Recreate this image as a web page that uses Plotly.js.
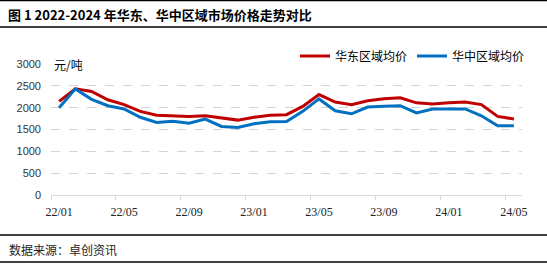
<!DOCTYPE html>
<html>
<head>
<meta charset="utf-8">
<script src="https://cdn.plot.ly/plotly-3.0.1.min.js"></script>
<style>
html,body{margin:0;padding:0;background:#fff;}
#chart{width:547px;height:265px;}
</style>
</head>
<body>
<div id="chart"></div>
<script>
// ---- data ----
const months = ["22/01","22/02","22/03","22/04","22/05","22/06","22/07","22/08","22/09","22/10","22/11","22/12",
                "23/01","23/02","23/03","23/04","23/05","23/06","23/07","23/08","23/09","23/10","23/11","23/12",
                "24/01","24/02","24/03","24/04","24/05"];
const eastPrice = [2145,2430,2370,2180,2070,1915,1825,1815,1800,1815,1760,1715,
                   1780,1825,1840,2030,2300,2130,2070,2160,2205,2225,2110,2085,
                   2110,2130,2070,1800,1740];
const centralPrice = [2000,2430,2190,2045,1970,1780,1660,1690,1645,1740,1570,1545,
                      1630,1675,1685,1915,2200,1930,1860,2015,2030,2045,1880,1970,
                      1970,1970,1815,1585,1585];
const tickLabels = ["22/01","22/05","22/09","23/01","23/05","23/09","24/01","24/05"];
const seriesNames = ["华东区域均价","华中区域均价"];
const titleText = "图 1 2022-2024 年华东、华中区域市场价格走势对比";
const unitText = "元/吨";
const sourceText = "数据来源：卓创资讯";

// ---- layout geometry ----
const W = 547, H = 265;
const M = {l: 51, r: 25, t: 64, b: 70};
const PW = W - M.l - M.r, PH = H - M.t - M.b;
const px = x => (x - M.l) / PW;          // pixel -> paper x
const py = y => (H - M.b - y) / PH;      // pixel -> paper y

const idx = months.map((m, i) => i);
const tickIdx = tickLabels.map(t => months.indexOf(t));

const cjk = '"Noto Sans CJK SC", "Noto Sans", sans-serif';

const traces = [
  {x: idx, y: eastPrice, name: seriesNames[0], type: 'scatter', mode: 'lines',
   line: {color: '#C00000', width: 3}},
  {x: idx, y: centralPrice, name: seriesNames[1], type: 'scatter', mode: 'lines',
   line: {color: '#0070C0', width: 3}}
];

const hline = (y) => ({type: 'line', xref: 'paper', yref: 'paper',
  x0: px(0), x1: px(W), y0: py(y), y1: py(y), line: {color: '#000', width: 1.3}});

const layout = {
  width: W, height: H,
  margin: M,
  paper_bgcolor: '#fff', plot_bgcolor: '#fff',
  showlegend: true,
  title: {text: '<b>' + titleText + '</b>', xref: 'container', yref: 'container',
          x: 8 / W, xanchor: 'left', y: 1 - 15 / H, yanchor: 'middle',
          font: {family: cjk, size: 13, color: '#000'}},
  legend: {orientation: 'h', x: px(295), xanchor: 'left', y: py(56), yanchor: 'middle',
           font: {family: cjk, size: 12, color: '#000'}, itemwidth: 30,
           bgcolor: 'rgba(0,0,0,0)', tracegroupgap: 0},
  xaxis: {range: [-0.5, months.length - 0.5], tickmode: 'array', tickvals: tickIdx, ticktext: tickLabels,
          ticks: '', showgrid: false, zeroline: false, showline: true, linecolor: '#d9d9d9', linewidth: 1,
          ticklabelstandoff: 6,
          tickfont: {family: '"Liberation Serif", serif', size: 12, color: '#222'},
          minor: {tick0: -0.5, dtick: 4, ticks: 'outside', ticklen: 4, tickcolor: '#d9d9d9', showgrid: false},
          fixedrange: true},
  yaxis: {range: [0, 3000], dtick: 500, tick0: 0, showgrid: true, gridcolor: '#d4d4d4', griddash: 'dash',
          gridwidth: 1, zeroline: false, showline: false, ticks: '', ticklabelstandoff: 9,
          tickfont: {family: '"Liberation Sans", Arial, sans-serif', size: 11, color: '#333'},
          fixedrange: true},
  shapes: [hline(0.7), hline(27), hline(235), hline(262)],
  annotations: [
    {text: unitText, xref: 'paper', yref: 'paper', x: px(52), y: py(64), xanchor: 'left', yanchor: 'middle',
     showarrow: false, font: {family: cjk, size: 12, color: '#000'}},
    {text: sourceText, xref: 'paper', yref: 'paper', x: px(7), y: py(249), xanchor: 'left', yanchor: 'middle',
     showarrow: false, font: {family: cjk, size: 12, color: '#222'}}
  ]
};

Plotly.newPlot('chart', traces, layout, {displayModeBar: false, staticPlot: true});
</script>
</body>
</html>
